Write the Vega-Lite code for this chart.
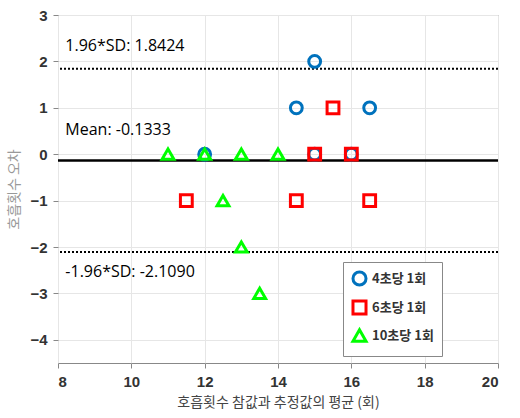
{
  "$schema": "https://vega.github.io/schema/vega-lite/v6.json",
  "width": 440,
  "height": 348,
  "autosize": "none",
  "padding": {"left": 58, "top": 15, "right": 22, "bottom": 55},
  "background": "white",
  "config": {
    "view": {"stroke": "#888888", "strokeWidth": 1},
    "font": "Liberation Sans"
  },
  "datasets": {
    "pts": [
      {"x": 15, "y": 2, "g": "4초당 1회"},
      {"x": 14.5, "y": 1, "g": "4초당 1회"},
      {"x": 16.5, "y": 1, "g": "4초당 1회"},
      {"x": 12, "y": 0, "g": "4초당 1회"},
      {"x": 15, "y": 0, "g": "4초당 1회"},
      {"x": 16, "y": 0, "g": "4초당 1회"},
      {"x": 15.5, "y": 1, "g": "6초당 1회"},
      {"x": 15, "y": 0, "g": "6초당 1회"},
      {"x": 16, "y": 0, "g": "6초당 1회"},
      {"x": 11.5, "y": -1, "g": "6초당 1회"},
      {"x": 14.5, "y": -1, "g": "6초당 1회"},
      {"x": 16.5, "y": -1, "g": "6초당 1회"},
      {"x": 11, "y": 0, "g": "10초당 1회"},
      {"x": 12, "y": 0, "g": "10초당 1회"},
      {"x": 13, "y": 0, "g": "10초당 1회"},
      {"x": 14, "y": 0, "g": "10초당 1회"},
      {"x": 12.5, "y": -1, "g": "10초당 1회"},
      {"x": 13, "y": -2, "g": "10초당 1회"},
      {"x": 13.5, "y": -3, "g": "10초당 1회"}
    ],
    "lines": [
      {"v": 1.8424, "kind": "sd"},
      {"v": -0.1333, "kind": "mean"},
      {"v": -2.109, "kind": "sd"}
    ],
    "labels": [
      {"x": 8.2, "y": 2.33, "t": "1.96*SD: 1.8424"},
      {"x": 8.2, "y": 0.52, "t": "Mean: -0.1333"},
      {"x": 8.2, "y": -2.54, "t": "-1.96*SD: -2.1090"}
    ]
  },
  "resolve": {"legend": {"color": "shared", "shape": "shared"}},
  "layer": [
    {
      "data": {"name": "lines"},
      "transform": [{"filter": "datum.kind == 'sd'"}],
      "mark": {"type": "rule", "color": "black", "strokeWidth": 2, "strokeDash": [2, 2]},
      "encoding": {"y": {"field": "v", "type": "quantitative", "scale": {"domain": [-4.5, 3], "nice": false, "zero": false}}}
    },
    {
      "data": {"name": "lines"},
      "transform": [{"filter": "datum.kind == 'mean'"}],
      "mark": {"type": "rule", "color": "black", "strokeWidth": 2.5},
      "encoding": {"y": {"field": "v", "type": "quantitative", "scale": {"domain": [-4.5, 3], "nice": false, "zero": false}}}
    },
    {
      "data": {"name": "labels"},
      "mark": {"type": "text", "align": "left", "baseline": "middle", "font": "Open Sans", "fontSize": 16, "color": "black"},
      "encoding": {
        "x": {"field": "x", "type": "quantitative", "scale": {"domain": [8, 20], "nice": false, "zero": false}},
        "y": {"field": "y", "type": "quantitative", "scale": {"domain": [-4.5, 3], "nice": false, "zero": false}},
        "text": {"field": "t"}
      }
    },
    {
      "data": {"name": "pts"},
      "mark": {"type": "point", "filled": false, "strokeWidth": 3, "size": 140, "opacity": 1},
      "encoding": {
        "x": {
          "field": "x", "type": "quantitative",
          "scale": {"domain": [8, 20], "nice": false, "zero": false},
          "axis": {
            "values": [8, 10, 12, 14, 16, 18, 20],
            "title": "호흡횟수 참값과 추정값의 평균 (회)",
            "titleFont": "Noto Sans CJK KR", "titleFontWeight": "normal", "titleFontSize": 14, "titleColor": "#444444",
            "titlePadding": 6,
            "labelFont": "Liberation Sans", "labelFontWeight": "bold", "labelFontSize": 15, "labelColor": "#333333",
            "grid": true, "gridColor": "#e6e6e6",
            "domain": false, "tickColor": "#888888", "tickSize": 5, "ticks": true, "labelPadding": 6
          }
        },
        "y": {
          "field": "y", "type": "quantitative",
          "scale": {"domain": [-4.5, 3], "nice": false, "zero": false},
          "axis": {
            "values": [-4, -3, -2, -1, 0, 1, 2, 3],
            "title": "호흡횟수 오차",
            "titleFont": "Noto Sans CJK KR", "titleFontWeight": "normal", "titleFontSize": 14, "titleColor": "#999999",
            "titlePadding": 8,
            "labelFont": "Liberation Sans", "labelFontWeight": "bold", "labelFontSize": 15, "labelColor": "#333333",
            "grid": true, "gridColor": "#e6e6e6",
            "domain": false, "tickColor": "#888888", "tickSize": 5, "labelPadding": 6
          }
        },
        "shape": {
          "field": "g", "type": "nominal",
          "scale": {"domain": ["4초당 1회", "6초당 1회", "10초당 1회"], "range": ["circle", "square", "triangle-up"]},
          "legend": {
            "title": null,
            "orient": "none", "legendX": 285, "legendY": 247,
            "strokeColor": "#888888", "fillColor": "white", "padding": 8,
            "labelFont": "Noto Sans CJK KR", "labelFontSize": 13, "labelFontWeight": "bold", "labelColor": "#333333",
            "symbolStrokeWidth": 3, "symbolSize": 170, "rowPadding": 2
          }
        },
        "color": {
          "field": "g", "type": "nominal",
          "scale": {"domain": ["4초당 1회", "6초당 1회", "10초당 1회"], "range": ["#0072BD", "#FF0000", "#00FF00"]},
          "legend": {
            "title": null,
            "orient": "none", "legendX": 285, "legendY": 247,
            "strokeColor": "#888888", "fillColor": "white", "padding": 8,
            "labelFont": "Noto Sans CJK KR", "labelFontSize": 13, "labelFontWeight": "bold", "labelColor": "#333333",
            "symbolStrokeWidth": 3, "symbolSize": 170, "rowPadding": 2
          }
        }
      }
    }
  ]
}
